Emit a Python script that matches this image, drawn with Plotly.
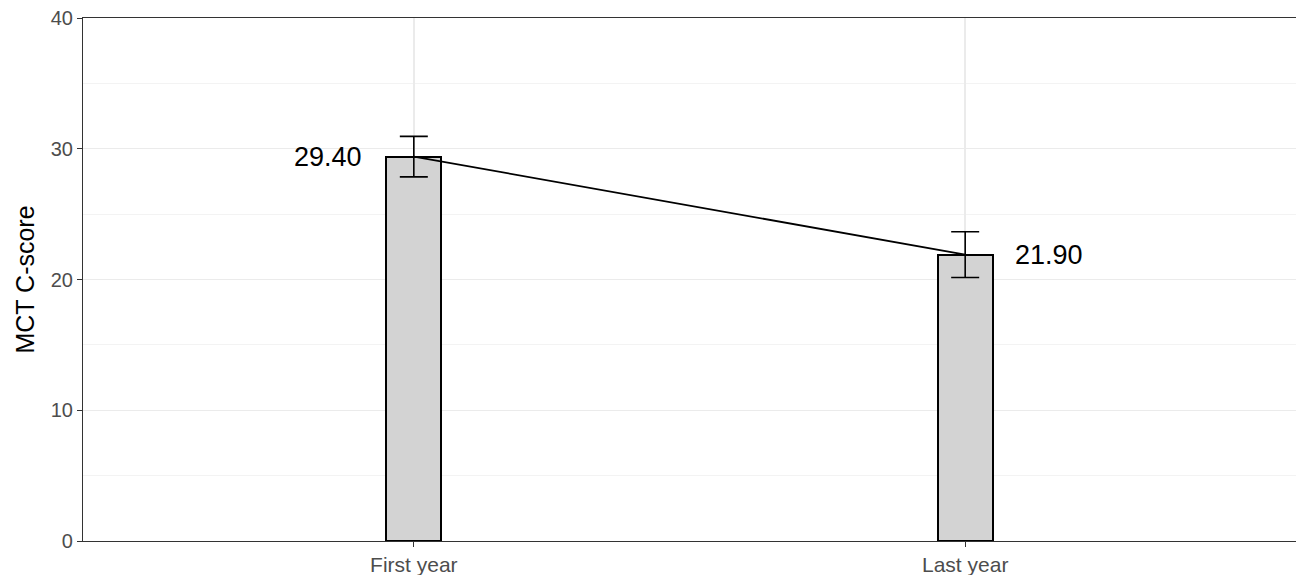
import plotly.graph_objects as go

# Mean MCT C-score by study year, with error bar half-widths
years = ["First year", "Last year"]
means = [29.40, 21.90]
errors = [1.55, 1.75]
mean_labels = ["29.40", "21.90"]

y_ticks = [0, 10, 20, 30, 40]

fig = go.Figure()

fig.add_trace(go.Bar(
    x=years,
    y=means,
    width=0.1,
    marker=dict(color="#d3d3d3", line=dict(color="black", width=2)),
    error_y=dict(type="data", array=errors, visible=True,
                 color="black", thickness=1.6, width=14),
    showlegend=False,
    hoverinfo="skip",
))

fig.add_trace(go.Scatter(
    x=years,
    y=means,
    mode="lines",
    line=dict(color="black", width=1.8),
    showlegend=False,
    hoverinfo="skip",
))

# Value labels beside each bar
fig.add_annotation(x=years[0], y=means[0], text=mean_labels[0], showarrow=False,
                   xanchor="right", yanchor="middle", xshift=-50,
                   font=dict(size=27, color="black"))
fig.add_annotation(x=years[1], y=means[1], text=mean_labels[1], showarrow=False,
                   xanchor="left", yanchor="middle", xshift=48,
                   font=dict(size=27, color="black"))

fig.update_layout(
    width=1296,
    height=575,
    margin=dict(l=83, r=0, t=18, b=34),
    paper_bgcolor="white",
    plot_bgcolor="white",
    font=dict(family="Liberation Sans, Arial, sans-serif", color="#4d4d4d"),
    bargap=0,
)

fig.update_xaxes(
    range=[-0.6, 1.6],
    showline=True, linecolor="#333333", linewidth=1.2, mirror=True,
    showgrid=True, gridcolor="#ebebeb", gridwidth=1.5,
    ticks="outside", ticklen=5, tickcolor="#333333", tickwidth=1.2,
    tickfont=dict(size=21, color="#4d4d4d"),
    zeroline=False,
)

fig.update_yaxes(
    range=[0, 40],
    tickvals=y_ticks,
    showline=True, linecolor="#333333", linewidth=1.2, mirror=True,
    showgrid=True, gridcolor="#ebebeb", gridwidth=1.2,
    minor=dict(dtick=5, tick0=0, showgrid=True, gridcolor="#f3f3f3", gridwidth=1),
    ticks="outside", ticklen=5, tickcolor="#333333", tickwidth=1.2,
    tickfont=dict(size=20, color="#4d4d4d"),
    title=dict(text="MCT C-score", font=dict(size=25, color="black"), standoff=8),
    zeroline=False,
)

fig.write_html("out.html")
